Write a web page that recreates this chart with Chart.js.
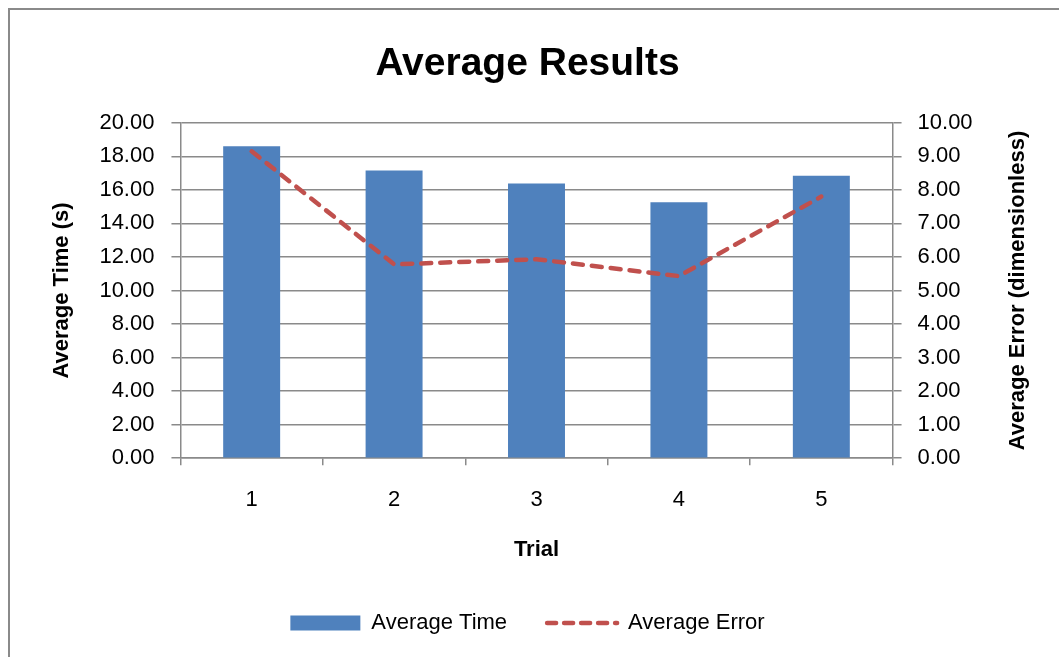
<!DOCTYPE html>
<html>
<head>
<meta charset="utf-8">
<script src="https://cdn.jsdelivr.net/npm/chart.js@4"></script>
<style>
  body { margin: 0; background: #fff; }
  .frame { position: absolute; left: 8px; top: 8px; width: 1100px; height: 700px; border: 2px solid #8a8a8a; }
  #chart { position: absolute; left: 0; top: 0; }
</style>
</head>
<body>
<div class="frame"></div>
<canvas id="chart" width="1059" height="657"></canvas>
<script>
const trials = ["1", "2", "3", "4", "5"];
const averageTime = [18.6, 17.16, 16.38, 15.26, 16.84];
const averageError = [9.15, 5.78, 5.93, 5.43, 7.8];

const timeMin = 0, timeMax = 20, timeStep = 2;
const errorMin = 0, errorMax = 10, errorStep = 1;

const fontFamily = "'Liberation Sans', Arial, sans-serif";
const gridGray = "#8a8a8a";
const errorTitle = "Average Error (dimensionless)";

// right axis title reads bottom-to-top, so draw it ourselves
const rightTitle = {
  id: "rightTitle",
  afterDraw(chart) {
    const s = chart.scales.y1;
    const ctx = chart.ctx;
    const area = chart.chartArea;
    ctx.save();
    ctx.translate(s.right - 13.2, (area.top + area.bottom) / 2);
    ctx.rotate(-Math.PI / 2);
    ctx.font = "bold 22px " + fontFamily;
    ctx.fillStyle = "#000";
    ctx.textAlign = "center";
    ctx.textBaseline = "middle";
    ctx.fillText(errorTitle, 0, 0);
    ctx.restore();
  }
};

const ctx = document.getElementById("chart").getContext("2d");
const myChart = new Chart(ctx, {
  type: "bar",
  data: {
    labels: trials,
    datasets: [
      {
        type: "bar",
        label: "Average Time",
        data: averageTime,
        backgroundColor: "#4F81BD",
        borderWidth: 0,
        barPercentage: 0.4,
        categoryPercentage: 1,
        yAxisID: "y",
        order: 2,
      },
      {
        type: "line",
        label: "Average Error",
        data: averageError,
        borderColor: "#C0504D",
        backgroundColor: "#C0504D",
        borderWidth: 4.5,
        borderDash: [10, 9],
        borderCapStyle: "round",
        pointRadius: 0,
        pointStyle: "line",
        tension: 0,
        yAxisID: "y1",
        order: 1,
      },
    ],
  },
  options: {
    responsive: false,
    animation: false,
    layout: { padding: { left: 24, right: 28, top: 0, bottom: 13 } },
    plugins: {
      title: {
        display: true,
        text: "Average Results",
        color: "#000",
        font: { family: fontFamily, size: 39, weight: "bold" },
        padding: { top: 41, bottom: 35 },
      },
      legend: {
        position: "bottom",
        labels: {
          color: "#000",
          font: { family: fontFamily, size: 22 },
          usePointStyle: true,
          pointStyleWidth: 70,
          boxHeight: 15,
          padding: 40,
          generateLabels(chart) {
            const items = Chart.defaults.plugins.legend.labels.generateLabels(chart);
            items.sort((a, b) => a.datasetIndex - b.datasetIndex);
            items.forEach((it) => {
              if (it.datasetIndex === 0) {
                it.pointStyle = "rect";
                it.lineWidth = 0;
              } else {
                it.pointStyle = "line";
                it.lineWidth = 4.5;
                it.lineDash = [9, 8];
                it.lineCap = "round";
              }
            });
            return items;
          },
        },
      },
      tooltip: { enabled: false },
    },
    scales: {
      x: {
        offset: true,
        grid: { display: true, offset: true, drawOnChartArea: false, drawTicks: true, tickLength: 7, color: gridGray, lineWidth: 1.5 },
        border: { display: true, color: gridGray, width: 1.5 },
        ticks: { color: "#000", font: { family: fontFamily, size: 22 }, padding: 22 },
        title: {
          display: true,
          text: "Trial",
          color: "#000",
          font: { family: fontFamily, size: 22, weight: "bold" },
          padding: { top: 1, bottom: 9 },
        },
      },
      y: {
        position: "left",
        min: timeMin,
        max: timeMax,
        ticks: {
          stepSize: timeStep,
          color: "#000",
          font: { family: fontFamily, size: 22 },
          padding: 17,
          callback: (v) => Number(v).toFixed(2),
        },
        grid: { color: gridGray, lineWidth: 1.5, tickLength: 9 },
        border: { display: true, color: gridGray, width: 1.5 },
        title: {
          display: true,
          text: "Average Time (s)",
          color: "#000",
          font: { family: fontFamily, size: 22, weight: "bold" },
          padding: { top: 25, bottom: 7 },
        },
      },
      y1: {
        position: "right",
        min: errorMin,
        max: errorMax,
        ticks: {
          stepSize: errorStep,
          color: "#000",
          font: { family: fontFamily, size: 22 },
          padding: 16,
          callback: (v) => Number(v).toFixed(2),
        },
        grid: { drawOnChartArea: false, color: gridGray, lineWidth: 1.5, tickLength: 9 },
        border: { display: true, color: gridGray, width: 1.5 },
        title: {
          display: true,
          text: errorTitle,
          color: "rgba(0,0,0,0)",
          font: { family: fontFamily, size: 22, weight: "bold" },
          padding: { top: 0, bottom: 16 },
        },
      },
    },
  },
  plugins: [rightTitle],
});
</script>
</body>
</html>
